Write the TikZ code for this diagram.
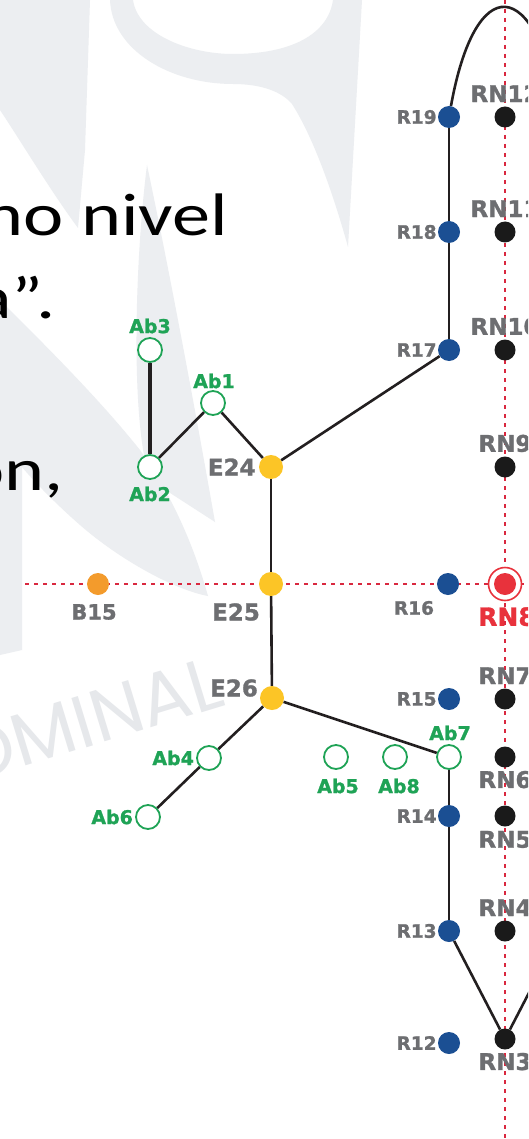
\documentclass[tikz,border=0pt]{standalone}
\usepackage{fontspec}
\usepackage{graphicx}
\newfontfamily\labfont[BoldFeatures={FakeBold=1.2}]{DejaVu Sans}
\newfontfamily\wmfont{Poppins}
\newfontfamily\bigfont{Carlito}
\definecolor{rblue}{HTML}{1B4F93}
\definecolor{rnblack}{HTML}{1A1A1A}
\definecolor{eyellow}{HTML}{FCC526}
\definecolor{borange}{HTML}{F39B2C}
\definecolor{rnred}{HTML}{E8323C}
\definecolor{abgreen}{HTML}{1FA356}
\definecolor{labgrey}{HTML}{6D6E71}
\definecolor{dotred}{HTML}{D9283F}
\definecolor{edgeblack}{HTML}{231F20}
\definecolor{wm}{HTML}{ECEEF1}
\definecolor{wmtext}{HTML}{E6E8EB}
\tikzset{
  rnode/.style={circle, fill=rblue, minimum size=22pt, inner sep=0pt},
  knode/.style={circle, fill=rnblack, minimum size=21pt, inner sep=0pt},
  enode/.style={circle, fill=eyellow, minimum size=24pt, inner sep=0pt},
  bnode/.style={circle, fill=borange, minimum size=22pt, inner sep=0pt},
  abnode/.style={circle, draw=abgreen, line width=1.8pt, fill=white, minimum size=24pt, inner sep=0pt},
  rednode/.style={circle, fill=rnred, minimum size=22pt, inner sep=0pt},
  rlab/.style={text=labgrey, font=\labfont\bfseries\fontsize{18.5}{20}\selectfont, inner sep=0pt},
  rnlab/.style={text=labgrey, font=\labfont\bfseries\fontsize{23}{25}\selectfont, inner sep=0pt},
  elab/.style={text=labgrey, font=\labfont\bfseries\fontsize{23}{25}\selectfont, inner sep=0pt},
  blab/.style={text=labgrey, font=\labfont\bfseries\fontsize{21}{23}\selectfont, inner sep=0pt},
  ablab/.style={text=abgreen, font=\labfont\bfseries\fontsize{19}{21}\selectfont, inner sep=0pt},
  redlab/.style={text=rnred, font=\labfont\bfseries\fontsize{25}{27}\selectfont, inner sep=0pt},
  edge/.style={draw=edgeblack, line width=2.6pt},
  dotline/.style={draw=dotred, line width=2.5pt, dash pattern=on 4pt off 5pt},
  bigtext/.style={font=\bigfont\fontsize{60}{64}\selectfont, inner sep=0pt, text=black},
}
\begin{document}
\begin{tikzpicture}[x=1pt,y=-1pt]
\useasboundingbox (0,0) rectangle (528,1139);
\clip (0,0) rectangle (528,1139);
\fill[white] (0,0) rectangle (528,1139);
% watermark shapes
\fill[wm, even odd rule] (110,0) .. controls (112,50) and (170,84) .. (233,84) .. controls (262,84) and (282,92) .. (292,104) .. controls (315,140) and (335,200) .. (348,247) -- (362,0) -- cycle
  (133,0) .. controls (138,35) and (190,54) .. (233,54) .. controls (290,54) and (328,35) .. (333,0) -- cycle;
\fill[wm] (0,0) -- (90,0) -- (85,150) -- (78,228) .. controls (50,190) and (20,140) .. (0,110) -- cycle;
\fill[wm] (0,300) .. controls (50,350) and (100,400) .. (140,450) .. controls (175,500) and (195,550) .. (208,596) .. controls (175,590) and (120,560) .. (80,525) .. controls (40,490) and (15,460) .. (0,440) -- cycle;
\fill[wm] (147,165) .. controls (165,250) and (190,380) .. (215,522) -- (150,480) .. controls (130,420) and (135,260) .. (147,165) -- cycle;
\fill[wm] (0,390) -- (22,385) -- (22,650) -- (0,655) -- cycle;
\node[rotate=17, anchor=base west, text=wmtext, font=\wmfont\fontsize{74}{76}\selectfont, inner sep=0pt] (wmword) at (-35,785) {OMINAL};
% big text
\node[bigtext, anchor=base east] (t1) at (228,236) {\scalebox{1.27}[1]{no nivel}};
\node[bigtext, anchor=base east] (t2) at (56,318) {\scalebox{1.27}[1]{a”.}};
\node[bigtext, anchor=base east] (t3) at (64,490) {\scalebox{1.27}[1]{ón,}};
% dotted red lines
\coordinate (vtop) at (505,0);
\coordinate (vbot) at (505,1139);
\coordinate (hleft) at (25,584);
\coordinate (hright) at (528,584);
\draw[dotline] (vtop) -- (vbot);
\draw[dotline] (hleft) -- (hright);
% nodes
\node[rnode] (R19) at (449,117) {};
\node[rnode] (R18) at (449,232) {};
\node[rnode] (R17) at (449,350) {};
\node[rnode] (R16) at (448,584) {};
\node[rnode] (R15) at (449,699) {};
\node[rnode] (R14) at (449,816) {};
\node[rnode] (R13) at (449,931) {};
\node[rnode] (R12) at (449,1043) {};
\node[knode] (RN12) at (505,117) {};
\node[knode] (RN11) at (505,232) {};
\node[knode] (RN10) at (505,350) {};
\node[knode] (RN9) at (505,467) {};
\node[knode] (RN7) at (505,699) {};
\node[knode] (RN6) at (505,757) {};
\node[knode] (RN5) at (505,816) {};
\node[knode] (RN4) at (505,931) {};
\node[knode] (RN3) at (505,1039) {};
\node[circle, draw=rnred, line width=1.6pt, fill=white, minimum size=33pt, inner sep=0pt] (RN8ring) at (505,584) {};
\node[rednode] (RN8) at (505,584) {};
\node[enode] (E24) at (271,467) {};
\node[enode] (E25) at (271,584) {};
\node[enode] (E26) at (272,698) {};
\node[bnode] (B15) at (98,584) {};
\node[abnode] (Ab3) at (150,350) {};
\node[abnode] (Ab1) at (213,403) {};
\node[abnode] (Ab2) at (150,467) {};
\node[abnode] (Ab4) at (209,758) {};
\node[abnode] (Ab6) at (148,817) {};
\node[abnode] (Ab5) at (336,757) {};
\node[abnode] (Ab8) at (395,757) {};
\node[abnode] (Ab7) at (449,757) {};
\coordinate (topout) at (561,117);
\coordinate (rn3out) at (561,931);
% edges
\draw[edge, line width=3.2pt] (Ab3) -- (Ab2);
\draw[edge] (Ab2) -- (Ab1);
\draw[edge] (Ab1) -- (E24);
\draw[edge] (E24) -- (R17);
\draw[edge] (E24) -- (E25);
\draw[edge] (E25) -- (E26);
\draw[edge] (E26) -- (Ab4);
\draw[edge] (Ab4) -- (Ab6);
\draw[edge] (E26) -- (Ab7);
\draw[edge] (Ab7) -- (R14);
\draw[edge] (R14) -- (R13);
\draw[edge] (R13) -- (RN3);
\draw[edge] (RN3) -- (rn3out);
\draw[edge] (R17) -- (R18);
\draw[edge] (R18) -- (R19);
\draw[edge] (R19) .. controls (475,-28) and (535,-28) .. (topout);
% labels
\node[rlab, anchor=east] (lR19) at ([xshift=-1pt]R19.west) {R19};
\node[rlab, anchor=east] (lR18) at ([xshift=-1pt]R18.west) {R18};
\node[rlab, anchor=east] (lR17) at ([xshift=-1pt]R17.west) {R17};
\node[rlab, anchor=east] (lR15) at ([xshift=-1pt]R15.west) {R15};
\node[rlab, anchor=east] (lR14) at ([xshift=-1pt]R14.west) {R14};
\node[rlab, anchor=east] (lR13) at ([xshift=-1pt]R13.west) {R13};
\node[rlab, anchor=east] (lR12) at ([xshift=-1pt]R12.west) {R12};
\node[rlab] (lR16) at (414,608) {R16};
\node[rnlab, anchor=south] (lRN12) at ([yshift=4pt]RN12.north) {RN12};
\node[rnlab, anchor=south] (lRN11) at ([yshift=4pt]RN11.north) {RN11};
\node[rnlab, anchor=south] (lRN10) at ([yshift=4pt]RN10.north) {RN10};
\node[rnlab, anchor=south] (lRN9) at ([yshift=4pt]RN9.north) {RN9};
\node[rnlab, anchor=south] (lRN7) at ([yshift=4pt]RN7.north) {RN7};
\node[rnlab, anchor=north] (lRN6) at ([yshift=-3pt]RN6.south) {RN6};
\node[rnlab, anchor=north] (lRN5) at ([yshift=-4pt]RN5.south) {RN5};
\node[rnlab, anchor=south] (lRN4) at ([yshift=4pt]RN4.north) {RN4};
\node[rnlab, anchor=north] (lRN3) at ([yshift=-3pt]RN3.south) {RN3};
\node[redlab, anchor=north west] (lRN8) at (478,607) {RN8};
\node[elab, anchor=east] (lE24) at ([xshift=-3pt]E24.west) {E24};
\node[elab] (lE25) at (236,612) {E25};
\node[elab] (lE26) at (234,688) {E26};
\node[blab] (lB15) at (94,612) {B15};
\node[ablab] (lAb3) at (150,326) {Ab3};
\node[ablab] (lAb1) at (214,381) {Ab1};
\node[ablab] (lAb2) at (150,494) {Ab2};
\node[ablab, anchor=east] (lAb4) at ([xshift=-2pt]Ab4.west) {Ab4};
\node[ablab, anchor=east] (lAb6) at ([xshift=-2pt]Ab6.west) {Ab6};
\node[ablab] (lAb5) at (338,786) {Ab5};
\node[ablab] (lAb8) at (399,786) {Ab8};
\node[ablab] (lAb7) at (450,733) {Ab7};
\end{tikzpicture}
\end{document}
